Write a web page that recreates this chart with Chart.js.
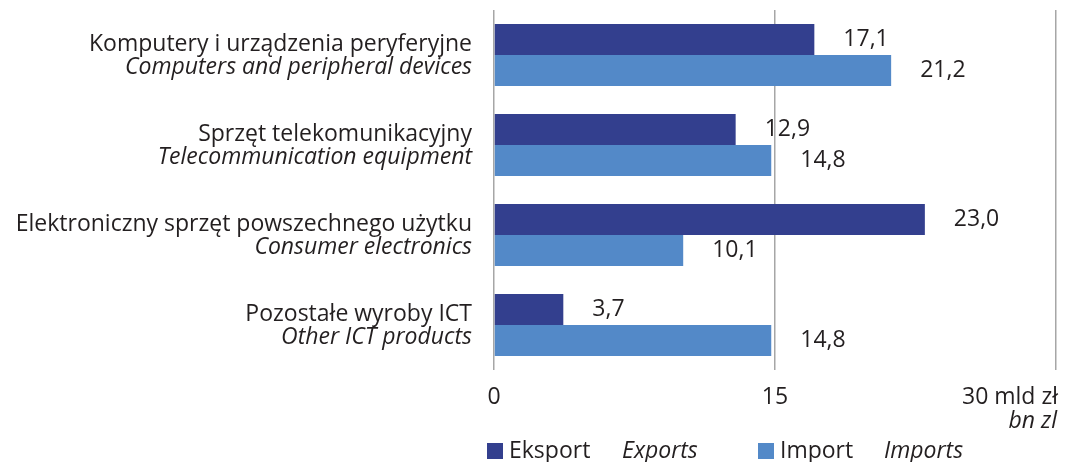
<!DOCTYPE html>
<html>
<head>
<meta charset="utf-8">
<script src="https://cdn.jsdelivr.net/npm/chart.js@4/dist/chart.umd.min.js"></script>
<style>
  html, body { margin: 0; padding: 0; background: #fff; }
  #wrap { width: 1071px; height: 462px; position: relative; }
</style>
</head>
<body>
<div id="wrap"><canvas id="ictChart"></canvas></div>
<script>
const categoriesPl = ['Komputery i urządzenia peryferyjne', 'Sprzęt telekomunikacyjny', 'Elektroniczny sprzęt powszechnego użytku', 'Pozostałe wyroby ICT'];
const categoriesEn = ['Computers and peripheral devices', 'Telecommunication equipment', 'Consumer electronics', 'Other ICT products'];
const exportValues = [17.1, 12.9, 23.0, 3.7];
const importValues = [21.2, 14.8, 10.1, 14.8];
const xTicks = [0, 15, 30];

const darkBlue = '#333f8e';
const lightBlue = '#5389c8';
const textColor = '#231f20';
const fontFamily = '"Open Sans", sans-serif';
const fs = 23;

// labels, axis numbers and legend, drawn by hand because of the italic second lines
const textPlugin = {
    id: 'textPlugin',
    afterDraw(chart) {
        const c = chart.ctx;
        const x = chart.scales.x;
        const y = chart.scales.y;
        c.save();
        c.fillStyle = textColor;
        c.textBaseline = 'middle';

        // category labels
        c.textAlign = 'right';
        categoriesPl.forEach((name, i) => {
            const cy = y.getPixelForValue(i);
            c.font = fs + 'px ' + fontFamily;
            c.fillText(name, 472, cy - 11);
            c.font = 'italic ' + fs + 'px ' + fontFamily;
            c.fillText(categoriesEn[i], 472, cy + 12);
        });

        // value labels
        c.textAlign = 'left';
        c.font = fs + 'px ' + fontFamily;
        chart.data.datasets.forEach((ds, di) => {
            chart.getDatasetMeta(di).data.forEach((bar, i) => {
                const label = ds.data[i].toFixed(1).replace('.', ',');
                c.fillText(label, bar.x + 29, bar.y);
            });
        });

        // x axis numbers
        const base = chart.chartArea.bottom + 27;
        xTicks.forEach((v, i) => {
            const px = x.getPixelForValue(v);
            if (i === xTicks.length - 1) {
                c.textAlign = 'right';
                c.font = fs + 'px ' + fontFamily;
                c.fillText(v + ' mld zł', px + 2, base);
                c.font = 'italic ' + fs + 'px ' + fontFamily;
                c.fillText('bn zl', px + 1, base + 24);
            } else {
                c.textAlign = 'center';
                c.font = fs + 'px ' + fontFamily;
                c.fillText(String(v), px, base);
            }
        });

        // legend
        const ly = 451;
        c.textAlign = 'left';
        c.fillStyle = darkBlue;
        c.fillRect(487, ly - 8, 16, 16);
        c.fillStyle = lightBlue;
        c.fillRect(758, ly - 8, 16, 16);
        c.fillStyle = textColor;
        c.font = fs + 'px ' + fontFamily;
        c.fillText('Eksport', 509, ly);
        c.fillText('Import', 780, ly);
        c.font = 'italic ' + fs + 'px ' + fontFamily;
        c.fillText('Exports', 622, ly);
        c.fillText('Imports', 884, ly);
        c.restore();
    }
};

new Chart(document.getElementById('ictChart'), {
    type: 'bar',
    data: {
        labels: categoriesPl,
        datasets: [
            { label: 'Eksport', data: exportValues, backgroundColor: darkBlue },
            { label: 'Import', data: importValues, backgroundColor: lightBlue }
        ]
    },
    options: {
        indexAxis: 'y',
        responsive: true,
        maintainAspectRatio: false,
        animation: false,
        layout: { padding: { left: 494, right: 15, top: 10, bottom: 92 } },
        datasets: { bar: { barPercentage: 1, categoryPercentage: 0.69 } },
        scales: {
            x: {
                min: 0,
                max: 30,
                afterBuildTicks: (axis) => { axis.ticks = xTicks.map(v => ({ value: v })); },
                ticks: { display: false },
                grid: { color: '#a6a6a6', lineWidth: 1.5, drawTicks: false },
                border: { display: false }
            },
            y: { display: false }
        },
        plugins: {
            legend: { display: false },
            tooltip: { enabled: false }
        }
    },
    plugins: [textPlugin]
});
</script>
</body>
</html>
